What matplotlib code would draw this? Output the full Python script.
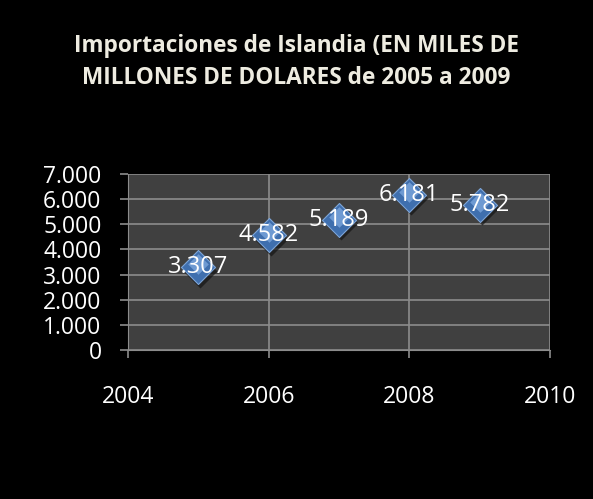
import matplotlib
matplotlib.use('Agg')
import matplotlib.pyplot as plt

# data
years = [2005, 2006, 2007, 2008, 2009]
values = [3307, 4582, 5189, 6181, 5782]
labels = ['3.307', '4.582', '5.189', '6.181', '5.782']
yticks = [0, 1000, 2000, 3000, 4000, 5000, 6000, 7000]
ytick_labels = ['0', '1.000', '2.000', '3.000', '4.000', '5.000', '6.000', '7.000']
xticks = [2004, 2006, 2008, 2010]

plt.rcParams['font.family'] = ['Open Sans', 'DejaVu Sans']

fig = plt.figure(figsize=[5.93, 4.99], dpi=100, facecolor='black')
ax = fig.add_axes([128 / 593, 1 - 350 / 499, 422 / 593, 176 / 499])
ax.set_facecolor('#404040')

# markers: shadow, body, lighter top half
ax.scatter([y + 0.03 for y in years], [v - 150 for v in values], marker='D', s=300,
           color='#151515', alpha=0.7, zorder=3, linewidths=0)
ax.scatter(years, values, marker='D', s=300, color='#3f6fae',
           edgecolors='#7ea6d8', linewidths=0.8, zorder=4)
ax.scatter(years, [v + 120 for v in values], marker='D', s=110, color='#7aa5dc',
           linewidths=0, alpha=0.8, zorder=4)

for x, v, t in zip(years, values, labels):
    ax.text(x, v, t, color='white', fontsize=17, ha='center', va='center', zorder=5)

ax.set_xlim(2004, 2010)
ax.set_ylim(0, 7000)
ax.set_xticks(xticks)
ax.set_xticklabels([str(x) for x in xticks])
ax.set_yticks(yticks)
ax.set_yticklabels(ytick_labels)
ax.grid(True, color='#8c8c8c', linewidth=1.2)
ax.set_axisbelow(True)

for s in ['top', 'right']:
    ax.spines[s].set_visible(False)
ax.spines['left'].set_color('#8c8c8c')
ax.spines['bottom'].set_color('#8c8c8c')
ax.tick_params(colors='white', labelsize=16.5, length=6, width=1.2)
ax.tick_params(axis='x', pad=19, color='#8c8c8c')
ax.tick_params(axis='y', pad=13, color='#8c8c8c')

fig.text(0.5, 1 - 62 / 499, 'Importaciones de Islandia (EN MILES DE\nMILLONES DE DOLARES de 2005 a 2009',
         color='#eeece1', fontsize=16.3, fontweight='bold', ha='center', va='center',
         linespacing=1.5)

plt.savefig('out.png', dpi=100, facecolor='black')
